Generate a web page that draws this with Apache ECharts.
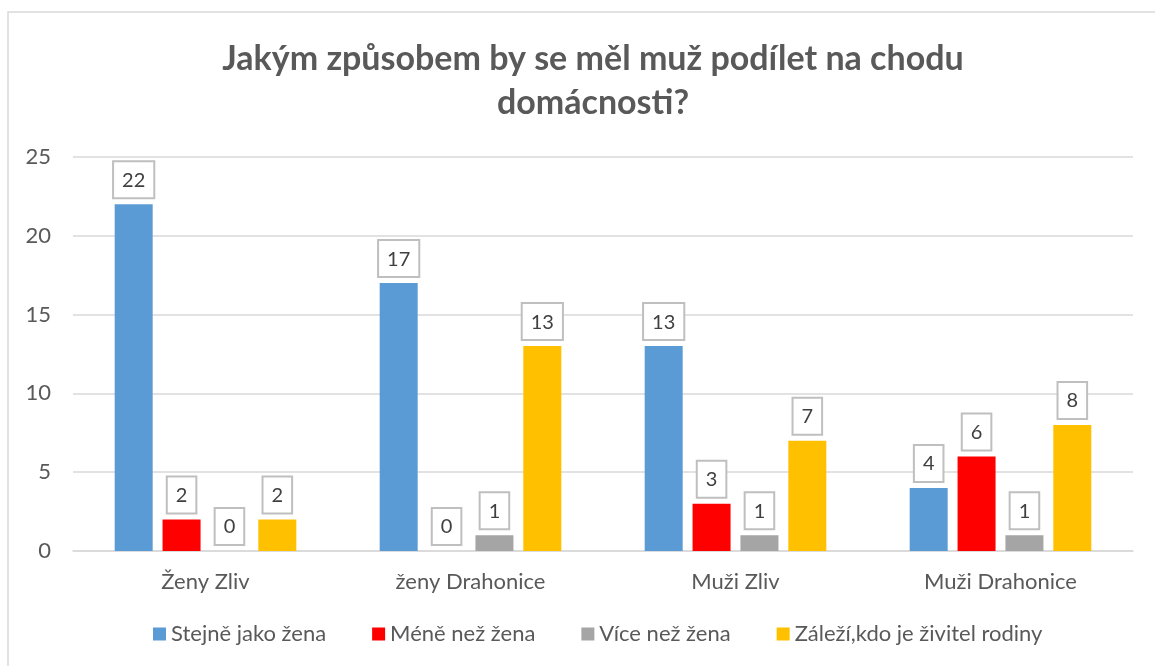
<!DOCTYPE html>
<html style="height: 100%">
   <head>
       <meta charset="utf-8">
   </head>
   <body style="height: 100%;margin: 0">
       <div id="container" style="height: 666px; width:1155px;"></div>
       <script type="text/javascript" src="https://cdn.jsdelivr.net/npm/echarts@6/dist/echarts.min.js"></script>
       <script type="text/javascript">

var categories = ['Ženy Zliv', 'ženy Drahonice', 'Muži Zliv', 'Muži Drahonice'];
var seriesNames = ['Stejně jako žena', 'Méně než žena', 'Více než žena', 'Záleží,kdo je živitel rodiny'];
var stejne = [22, 17, 13, 4];
var mene = [2, 0, 3, 6];
var vice = [0, 1, 1, 1];
var zalezi = [2, 13, 7, 8];
var yTicks = [0, 5, 10, 15, 20, 25];
var colors = ['#5b9bd5', '#ff0000', '#a5a5a5', '#ffc000'];

var dom = document.getElementById("container");
var myChart = echarts.init(dom);

var font = 'Lato';

function bar(name, data, i) {
    return {
        name: name,
        type: 'bar',
        data: data,
        barWidth: 38,
        barGap: '26%',
        itemStyle: { color: colors[i] },
        label: {
            show: true,
            position: 'top',
            distance: 7,
            fontFamily: font,
            fontSize: 20,
            color: '#404040',
            backgroundColor: '#ffffff',
            borderColor: '#bfbfbf',
            borderWidth: 2,
            padding: [7, 8, 6, 8],
            lineHeight: 22
        }
    };
}

var option = {
    animation: false,
    backgroundColor: '#ffffff',
    graphic: [{
        type: 'rect',
        shape: { x: 8, y: 12, width: 1200, height: 700 },
        style: { fill: 'none', stroke: '#d9d9d9', lineWidth: 1.5 },
        silent: true,
        z: -1
    }],
    title: {
        text: 'Jakým způsobem by se měl muž podílet na chodu\ndomácnosti?',
        left: 588,
        top: 32,
        textAlign: 'center',
        textStyle: {
            fontFamily: font,
            fontWeight: 'bold',
            fontSize: 34,
            color: '#595959',
            lineHeight: 44
        }
    },
    legend: {
        data: seriesNames,
        bottom: 16,
        left: 148,
        itemWidth: 13,
        itemHeight: 13,
        itemGap: 46,
        icon: 'rect',
        textStyle: { fontFamily: font, fontSize: 22, color: '#595959' }
    },
    grid: {
        left: 73,
        right: 22,
        top: 157,
        bottom: 115
    },
    xAxis: {
        type: 'category',
        data: categories,
        axisLine: { lineStyle: { color: '#d9d9d9', width: 1.5 } },
        axisTick: { show: false },
        axisLabel: { fontFamily: font, fontSize: 22, color: '#595959', margin: 20 }
    },
    yAxis: {
        type: 'value',
        min: yTicks[0],
        max: yTicks[yTicks.length - 1],
        interval: 5,
        axisLine: { show: false },
        axisTick: { show: false },
        splitLine: { lineStyle: { color: '#d9d9d9', width: 1.5 } },
        axisLabel: { fontFamily: font, fontSize: 22, color: '#595959', margin: 22 }
    },
    series: [
        bar(seriesNames[0], stejne, 0),
        bar(seriesNames[1], mene, 1),
        bar(seriesNames[2], vice, 2),
        bar(seriesNames[3], zalezi, 3)
    ]
};

myChart.setOption(option, true);

       </script>
   </body>
</html>
